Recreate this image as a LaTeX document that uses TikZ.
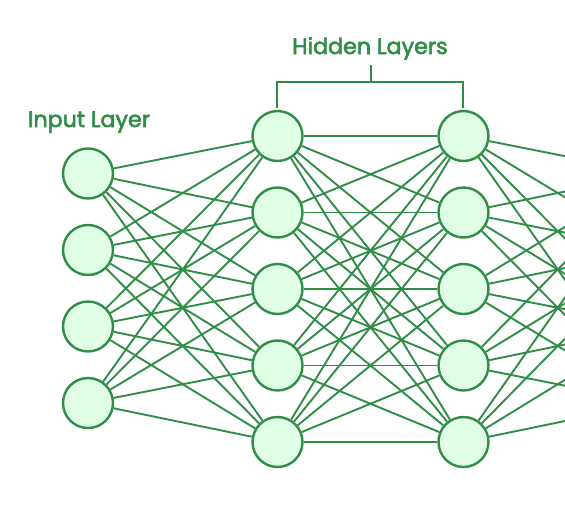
\documentclass[tikz,border=0pt]{standalone}
\usepackage{fontspec}
\setmainfont{Poppins}[FakeBold=2.6]
\usetikzlibrary{backgrounds}
\definecolor{gfg}{RGB}{47,141,70}
\definecolor{nodefill}{RGB}{224,253,230}
\begin{document}
\begin{tikzpicture}[x=1pt,y=-1pt,
  neuron/.style={circle,draw=gfg,fill=nodefill,line width=2.4pt,minimum size=50pt,inner sep=0pt},
  conn/.style={draw=gfg,line width=1.9pt},
  lbl/.style={text=gfg,font=\fontsize{22.2}{25}\selectfont,inner sep=0pt,anchor=base}]
\useasboundingbox (0,0) rectangle (565,504);
\clip (0,0) rectangle (565,504);
\foreach \i/\y in {1/173.5,2/250,3/326.5,4/403}{
  \node[neuron] (i\i) at (88,\y) {};
  \coordinate (o\i) at (652,\y);
}
\foreach \j/\y in {1/136,2/212.5,3/289,4/365.5,5/442}{
  \node[neuron] (a\j) at (277.5,\y) {};
  \node[neuron] (b\j) at (463.5,\y) {};
}
\begin{scope}[on background layer]
\foreach \i in {1,...,4}{\foreach \j in {1,...,5}{
  \draw[conn] (i\i) -- (a\j);
  \draw[conn] (b\j) -- (o\i);
}}
\foreach \j in {1,...,5}{\foreach \k in {1,...,5}{
  \draw[conn] (a\j) -- (b\k);
}}
\end{scope}
\node[lbl] (hl) at (370,54) {Hidden Layers};
\node[lbl] (il) at (89,127) {Input Layer};
\coordinate (bl) at (277,108);
\coordinate (br) at (463,108);
\coordinate (bt) at (371,65);
\draw[gfg,line width=2pt] (bl) |- (br |- 0,82) -- (br);
\draw[gfg,line width=2pt] (bt) -- (bt |- 0,82);
\end{tikzpicture}
\end{document}
